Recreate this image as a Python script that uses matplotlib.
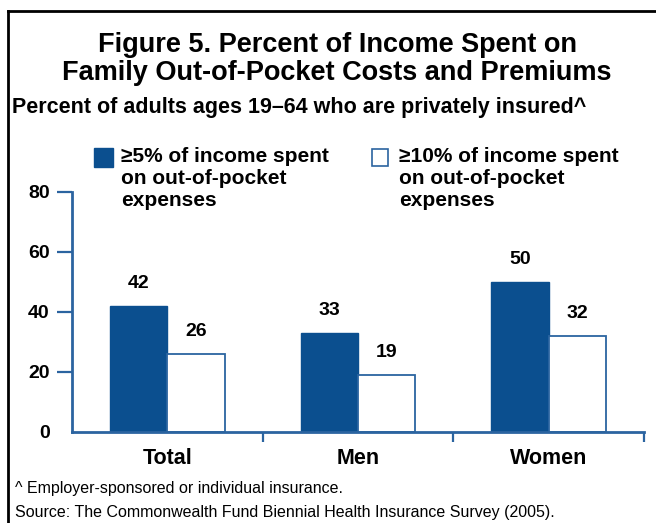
import numpy as np
import matplotlib
matplotlib.use("Agg")
import matplotlib.pyplot as plt
from matplotlib.patches import Rectangle
from matplotlib.lines import Line2D

groups = ["Total", "Men", "Women"]
pct_5 = [42, 33, 50]
pct_10 = [26, 19, 32]
yticks = [0, 20, 40, 60, 80]

title = "Figure 5. Percent of Income Spent on\nFamily Out-of-Pocket Costs and Premiums"
subtitle = "Percent of adults ages 19\u201364 who are privately insured^"
leg1 = "\u22655% of income spent\non out-of-pocket\nexpenses"
leg2 = "\u226510% of income spent\non out-of-pocket\nexpenses"
note1 = "^ Employer-sponsored or individual insurance."
note2 = "Source: The Commonwealth Fund Biennial Health Insurance Survey (2005)."

dark = "#0b4f8f"
axblue = "#2b64a0"
W, H = 656, 523

plt.rcParams['font.family'] = ['Liberation Sans', 'DejaVu Sans']

fig = plt.figure(figsize=(W / 100, H / 100), dpi=100)

def px(x, y):
    return x / W, 1 - y / H

# frame
fig.add_artist(Line2D([8 / W, 8 / W], [0, 1 - 11 / H], transform=fig.transFigure, color="black", lw=2))
fig.add_artist(Line2D([8 / W, 1], [1 - 11 / H, 1 - 11 / H], transform=fig.transFigure, color="black", lw=2))

fig.text(*px(337, 59), title, ha="center", va="center", fontsize=19.5, fontweight="bold", linespacing=1.15)
fig.text(*px(12, 108), subtitle, ha="left", va="center", fontsize=15.5, fontweight="bold")

# legend
fig.add_artist(Rectangle(px(94, 167), 19 / W, 19 / H, transform=fig.transFigure, facecolor=dark, edgecolor=dark))
fig.add_artist(Rectangle(px(372, 166), 16 / W, 17 / H, transform=fig.transFigure, facecolor="white", edgecolor=axblue, lw=1.2))
fig.text(*px(121, 147), leg1, ha="left", va="top", fontsize=15, fontweight="bold", linespacing=1.2)
fig.text(*px(399, 147), leg2, ha="left", va="top", fontsize=15, fontweight="bold", linespacing=1.2)

fig.text(*px(15, 489), note1, ha="left", va="center", fontsize=11.5)
fig.text(*px(15, 512), note2, ha="left", va="center", fontsize=11.5)

ax = fig.add_axes([72 / W, 1 - 432 / H, (644 - 72) / W, 240 / H])
x = np.arange(len(groups))
ax.bar(x - 0.15, pct_5, width=0.3, color=dark, edgecolor=dark)
ax.bar(x + 0.15, pct_10, width=0.3, color="white", edgecolor=axblue, linewidth=1.3)
for i in range(len(groups)):
    ax.annotate(str(pct_5[i]), (x[i] - 0.15, pct_5[i]), xytext=(0, 10), textcoords="offset points",
                ha="center", va="bottom", fontsize=14, fontweight="bold")
    ax.annotate(str(pct_10[i]), (x[i] + 0.15, pct_10[i]), xytext=(0, 10), textcoords="offset points",
                ha="center", va="bottom", fontsize=14, fontweight="bold")

ax.set_xlim(-0.5, 2.5)
ax.set_ylim(0, 80)
ax.set_yticks(yticks)
ax.set_yticklabels([str(v) for v in yticks], fontsize=14, fontweight="bold")
ax.get_yaxis().get_major_ticks()[0].tick1line.set_visible(False)
ax.tick_params(axis="y", length=11, width=1.6, color=axblue, pad=5)
ax.set_xticks([0.5, 1.5, 2.5])
ax.set_xticklabels([])
ax.tick_params(axis="x", length=7, width=1.6, color=axblue, direction="out")
for i, g in enumerate(groups):
    ax.text(i, -5.2, g, ha="center", va="top", fontsize=15.5, fontweight="bold")
for s in ["top", "right"]:
    ax.spines[s].set_visible(False)
for s in ["left", "bottom"]:
    ax.spines[s].set_color(axblue)
    ax.spines[s].set_linewidth(2)

fig.savefig("out.png", dpi=100)
